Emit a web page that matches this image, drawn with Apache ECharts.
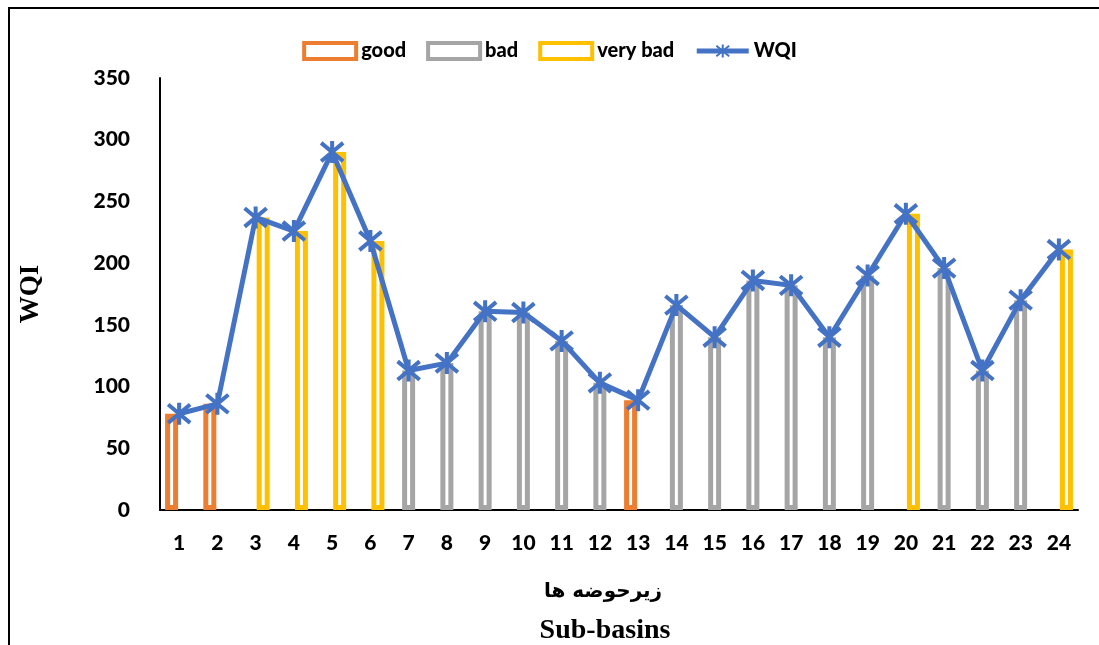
<!DOCTYPE html>
<html>
<head>
<meta charset="utf-8">
<script src="https://cdn.jsdelivr.net/npm/echarts@6/dist/echarts.min.js"></script>
<style>
  html, body { margin: 0; padding: 0; background: #fff; }
  #main { width: 1099px; height: 645px; }
</style>
</head>
<body>
<div id="main"></div>
<script>
const subBasins = ['1','2','3','4','5','6','7','8','9','10','11','12','13','14','15','16','17','18','19','20','21','22','23','24'];
const wqi  = [78, 86, 237, 226, 290, 218, 113, 119, 161, 160, 137, 103, 89, 166, 140, 186, 182, 140, 190, 240, 196, 113, 170, 211];
const good    = [78, 86, '-', '-', '-', '-', '-', '-', '-', '-', '-', '-', 89, '-', '-', '-', '-', '-', '-', '-', '-', '-', '-', '-'];
const bad     = ['-', '-', '-', '-', '-', '-', 113, 119, 161, 160, 137, 103, '-', 166, 140, 186, 182, 140, 190, '-', 196, 113, 170, '-'];
const veryBad = ['-', '-', 237, 226, 290, 218, '-', '-', '-', '-', '-', '-', '-', '-', '-', '-', '-', '-', '-', 240, '-', '-', '-', 211];

const chart = echarts.init(document.getElementById('main'));

const ORANGE = '#ED7D31', GRAY = '#A5A5A5', GOLD = '#FFC000', BLUE = '#4472C4';
const tickFont = { fontFamily: 'Lato', fontWeight: 900, fontSize: 21, color: '#000' };
const barStyle = c => ({ color: '#fff', borderColor: c, borderWidth: 5 });
const legendBox = c => ({ color: '#fff', borderColor: c, borderWidth: 4 });
const star = 'path://M0,0L20,20M20,0L0,20M10,-2L10,22';

chart.setOption({
  animation: false,
  graphic: [{
    type: 'rect',
    shape: { x: 9, y: 8, width: 1200, height: 1000 },
    style: { fill: 'none', stroke: '#000', lineWidth: 2 }
  }],
  title: [
    { text: 'زیرحوضه ها', left: 598, top: 577, textAlign: 'center',
      textStyle: { fontFamily: 'DejaVu Sans', fontWeight: 'bold', fontSize: 20, color: '#000' } },
    { text: 'Sub-basins', left: 600, top: 612, textAlign: 'center',
      textStyle: { fontFamily: 'Liberation Serif', fontWeight: 'bold', fontSize: 28, color: '#000' } }
  ],
  legend: {
    top: 36,
    left: 'center',
    itemWidth: 52,
    itemHeight: 16,
    itemGap: 20,
    textStyle: { fontFamily: 'Lato', fontWeight: 900, fontSize: 20, color: '#000' },
    data: [
      { name: 'good', icon: 'rect', itemStyle: legendBox(ORANGE) },
      { name: 'bad', icon: 'rect', itemStyle: legendBox(GRAY) },
      { name: 'very bad', icon: 'rect', itemStyle: legendBox(GOLD) },
      { name: 'WQI', lineStyle: { width: 5, color: BLUE } }
    ]
  },
  grid: { left: 160, right: 21, top: 78, bottom: 135 },
  xAxis: {
    type: 'category',
    data: subBasins,
    axisLine: { lineStyle: { color: '#000', width: 2 } },
    axisTick: { show: false },
    axisLabel: { ...tickFont, margin: 23 }
  },
  yAxis: {
    type: 'value',
    min: 0, max: 350, interval: 50,
    name: 'WQI',
    nameLocation: 'middle',
    nameGap: 115,
    nameTextStyle: { fontFamily: 'Liberation Serif', fontWeight: 'bold', fontSize: 27, color: '#000' },
    axisLine: { show: true, lineStyle: { color: '#000', width: 2 } },
    axisTick: { show: false },
    splitLine: { show: false },
    axisLabel: { ...tickFont, margin: 30 }
  },
  series: [
    { name: 'good', type: 'bar', data: good, barWidth: 13, barGap: '-42%', itemStyle: barStyle(ORANGE) },
    { name: 'bad', type: 'bar', data: bad, barWidth: 13, barGap: '-42%', itemStyle: barStyle(GRAY) },
    { name: 'very bad', type: 'bar', data: veryBad, barWidth: 13, barGap: '-42%', itemStyle: barStyle(GOLD) },
    {
      name: 'WQI', type: 'line', data: wqi,
      symbol: star, symbolSize: 22,
      lineStyle: { color: BLUE, width: 5 },
      itemStyle: { color: BLUE, borderColor: BLUE, borderWidth: 4 },
      z: 5
    }
  ]
});
</script>
</body>
</html>
